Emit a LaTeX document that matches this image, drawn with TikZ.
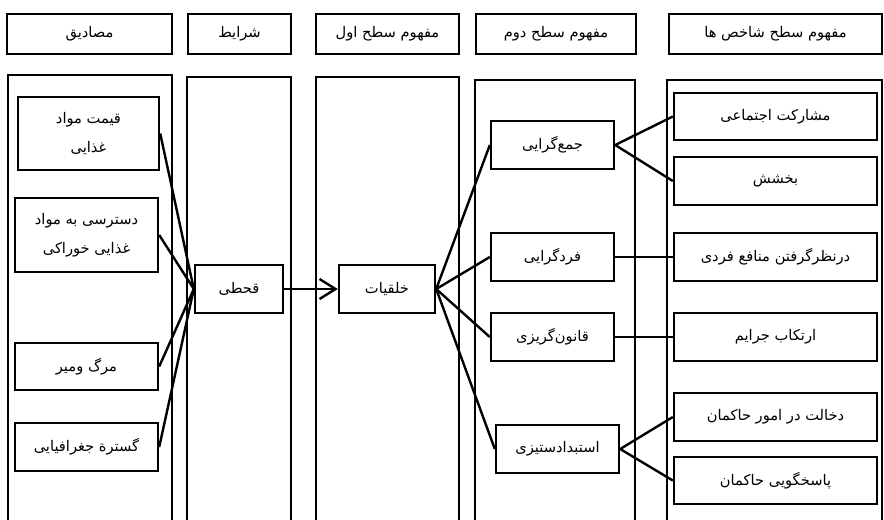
\documentclass[tikz,border=0pt]{standalone}
\usepackage{fontspec}
\usepackage{tikz}
\usetikzlibrary{arrows.meta}
\TeXXeTstate=1
\newfontfamily\arabicfont[Script=Arabic]{DejaVu Sans}
\newcommand{\fa}[1]{\beginR #1\endR}
\begin{document}
\begin{tikzpicture}[x=0.75pt,y=0.75pt,yscale=-1,xscale=1,
  every node/.style={font=\arabicfont\fontsize{11}{22}\selectfont, align=center, inner sep=0.75pt},
  head/.style={draw, line width=1.8pt, minimum height=30pt},
  cell/.style={draw, line width=1.8pt, minimum height=36pt},
  column/.style={line width=1.5pt},
  link/.style={line width=1.8pt}]
\useasboundingbox (0,0) rectangle (884,519);

%Shape: Columns
\draw [column] (8,530) -- (8,75) -- (172,75) -- (172,530) ;
\draw [column] (187,530) -- (187,77) -- (291,77) -- (291,530) ;
\draw [column] (316,530) -- (316,77) -- (459,77) -- (459,530) ;
\draw [column] (475,530) -- (475,80) -- (635,80) -- (635,530) ;
\draw [column] (667,530) -- (667,80) -- (882,80) -- (882,530) ;

% Header Nodes
\node [head, minimum width=123.75pt] (hmasadiq) at (89.5,34) {\fa{مصادیق}};
\node [head, minimum width=77.25pt] (hsharayet) at (239.5,34) {\fa{شرایط}};
\node [head, minimum width=107.25pt] (hsath1) at (387.5,34) {\fa{مفهوم سطح اول}};
\node [head, minimum width=120pt] (hsath2) at (556,34) {\fa{مفهوم سطح دوم}};
\node [head, minimum width=159.75pt] (hshakhes) at (775.5,34) {\fa{مفهوم سطح شاخص ها}};

% Text Node
\node [cell, minimum width=105.75pt, minimum height=54.75pt] (gheimat) at (88.5,133.5) {\fa{قیمت مواد}\\\fa{غذایی}};
\node [cell, minimum width=107.25pt, minimum height=55.5pt] (dastresi) at (86.5,235) {\fa{دسترسی به مواد}\\\fa{غذایی خوراکی}};
\node [cell, minimum width=107.25pt, minimum height=35.25pt] (marg) at (86.5,366.5) {\fa{مرگ ومیر}};
\node [cell, minimum width=107.25pt] (gostare) at (86.5,447) {\fa{گسترة جغرافیایی}};
\node [cell, minimum width=66pt] (ghahti) at (239,289) {\fa{قحطی}};
\node [cell, minimum width=72pt] (kholqiyat) at (387,289) {\fa{خلقیات}};
\node [cell, minimum width=92.25pt] (jamgarayi) at (552.5,145) {\fa{جمع‌گرایی}};
\node [cell, minimum width=92.25pt] (fardgarayi) at (552.5,257) {\fa{فردگرایی}};
\node [cell, minimum width=92.25pt] (ghanoon) at (552.5,337) {\fa{قانون‌گریزی}};
\node [cell, minimum width=92.25pt] (estebdad) at (557.5,449) {\fa{استبدادستیزی}};
\node [cell, minimum width=152.25pt, minimum height=35.25pt] (mosharekat) at (775.5,116.5) {\fa{مشارکت اجتماعی}};
\node [cell, minimum width=152.25pt] (bakhshesh) at (775.5,181) {\fa{بخشش}};
\node [cell, minimum width=152.25pt] (darnazar) at (775.5,257) {\fa{درنظرگرفتن منافع فردی}};
\node [cell, minimum width=152.25pt] (ertekab) at (775.5,337) {\fa{ارتکاب جرایم}};
\node [cell, minimum width=152.25pt] (dekhalat) at (775.5,417) {\fa{دخالت در امور حاکمان}};
\node [cell, minimum width=152.25pt, minimum height=35.25pt] (pasokh) at (775.5,480.5) {\fa{پاسخگویی حاکمان}};

%Straight Lines
\foreach \src in {gheimat,dastresi,marg,gostare}
  \draw [link] (\src.east) -- (ghahti.west) ;
\draw [link, -{Straight Barb[length=12pt,width=15pt]}] (ghahti.east) -- (kholqiyat.west) ;
\foreach \dst in {jamgarayi,fardgarayi,ghanoon,estebdad}
  \draw [link] (kholqiyat.east) -- (\dst.west) ;
\draw [link] (jamgarayi.east) -- (mosharekat.west) ;
\draw [link] (jamgarayi.east) -- (bakhshesh.west) ;
\draw [link] (fardgarayi.east) -- (darnazar.west) ;
\draw [link] (ghanoon.east) -- (ertekab.west) ;
\draw [link] (estebdad.east) -- (dekhalat.west) ;
\draw [link] (estebdad.east) -- (pasokh.west) ;

\end{tikzpicture}
\end{document}
